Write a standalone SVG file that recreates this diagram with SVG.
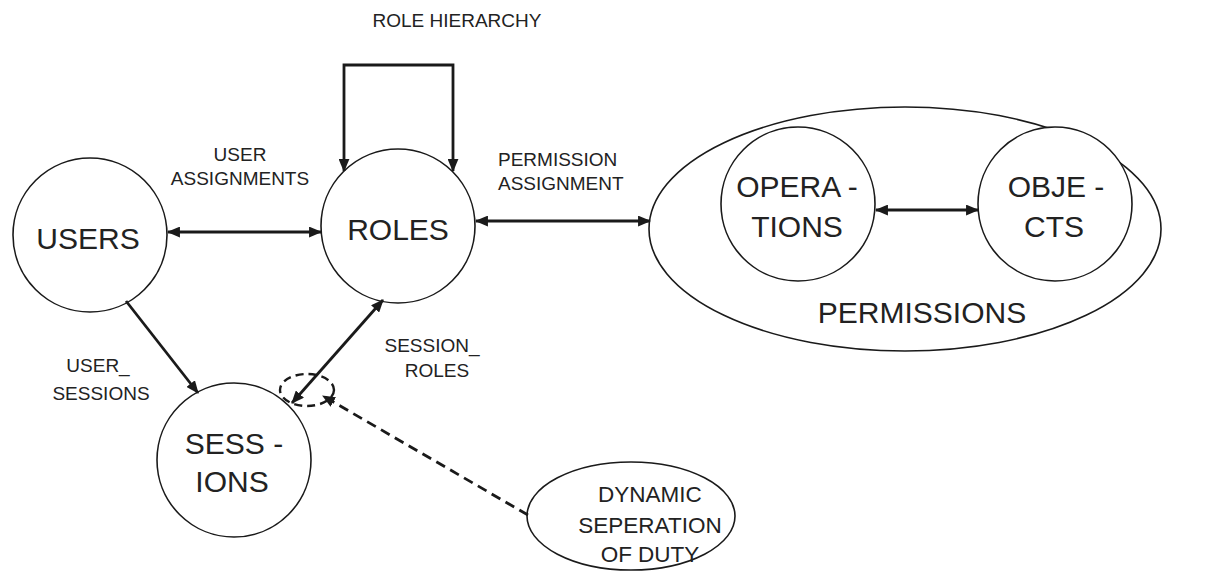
<svg xmlns="http://www.w3.org/2000/svg" width="1207" height="577" viewBox="0 0 1207 577">
  <defs>
    <marker id="head" viewBox="0 0 12 10" refX="11" refY="5" markerWidth="13" markerHeight="11" markerUnits="userSpaceOnUse" orient="auto-start-reverse">
      <path d="M0,0 L12,5 L0,10 z" fill="#1a1a1a"/>
    </marker>
  </defs>
  <style>
    .node { fill: #ffffff; stroke: #1a1a1a; stroke-width: 1.6; }
    .big { font-family: "Liberation Sans", Arial, sans-serif; font-size: 30px; fill: #222; text-anchor: middle; }
    .mid { font-family: "Liberation Sans", Arial, sans-serif; font-size: 22.5px; fill: #222; text-anchor: middle; }
    .lbl { font-family: "Liberation Sans", Arial, sans-serif; font-size: 19px; fill: #222; text-anchor: middle; }
    .link { fill: none; stroke: #1a1a1a; stroke-width: 2.8; }
    .both { marker-start: url(#head); marker-end: url(#head); }
    .one { marker-end: url(#head); }
    .dash { fill: none; stroke: #1a1a1a; stroke-width: 2.8; stroke-dasharray: 10 6; }
  </style>
  <rect width="1207" height="577" fill="#ffffff"/>

  <!-- labels of the relations -->
  <g id="labels">
    <text class="lbl" x="457" y="27">ROLE HIERARCHY</text>
    <text class="lbl" x="240" y="161">USER</text>
    <text class="lbl" x="240" y="185">ASSIGNMENTS</text>
    <text class="lbl" x="498" y="166" style="text-anchor:start">PERMISSION</text>
    <text class="lbl" x="498" y="190" style="text-anchor:start">ASSIGNMENT</text>
    <text class="lbl" x="98" y="372">USER_</text>
    <text class="lbl" x="101" y="400">SESSIONS</text>
    <text class="lbl" x="432" y="352">SESSION_</text>
    <text class="lbl" x="437" y="377">ROLES</text>
  </g>

  <g id="permissions">
    <ellipse class="node" cx="905" cy="229" rx="256" ry="122"/>
    <text class="big" x="922" y="323">PERMISSIONS</text>
  </g>
  <g id="operations">
    <circle class="node" cx="798" cy="204" r="77"/>
    <text class="big" x="797" y="197">OPERA -</text>
    <text class="big" x="797" y="237">TIONS</text>
  </g>
  <g id="objects">
    <circle class="node" cx="1055" cy="204" r="77"/>
    <text class="big" x="1056" y="197">OBJE -</text>
    <text class="big" x="1054" y="237">CTS</text>
  </g>
  <g id="users">
    <circle class="node" cx="90" cy="235" r="77"/>
    <text class="big" x="88" y="249">USERS</text>
  </g>
  <g id="roles">
    <circle class="node" cx="398" cy="226" r="77"/>
    <text class="big" x="398" y="240">ROLES</text>
  </g>
  <g id="sessions">
    <circle class="node" cx="234" cy="460" r="77"/>
    <text class="big" x="234" y="454">SESS -</text>
    <text class="big" x="232" y="492">IONS</text>
  </g>
  <g id="dsd">
    <ellipse class="node" cx="631" cy="516" rx="104" ry="54"/>
    <text class="mid" x="650" y="502">DYNAMIC</text>
    <text class="mid" x="650" y="533">SEPERATION</text>
    <text class="mid" x="650" y="562">OF DUTY</text>
  </g>

  <g id="connectors">
    <line class="link both" x1="168" y1="232" x2="321" y2="232"/>
    <line class="link both" x1="476" y1="221" x2="650" y2="221"/>
    <line class="link both" x1="876" y1="210" x2="978" y2="210"/>
    <path class="link both" d="M344,171 V65 H453 V171"/>
    <line class="link one" x1="126" y1="301" x2="198" y2="393"/>
    <line class="link both" x1="383" y1="300" x2="292" y2="403"/>
    <ellipse class="dash" cx="307" cy="390" rx="27" ry="16" style="stroke-width:2.4;stroke-dasharray:8 5"/>
    <line class="dash one" x1="528" y1="515" x2="323" y2="396"/>
  </g>
</svg>
